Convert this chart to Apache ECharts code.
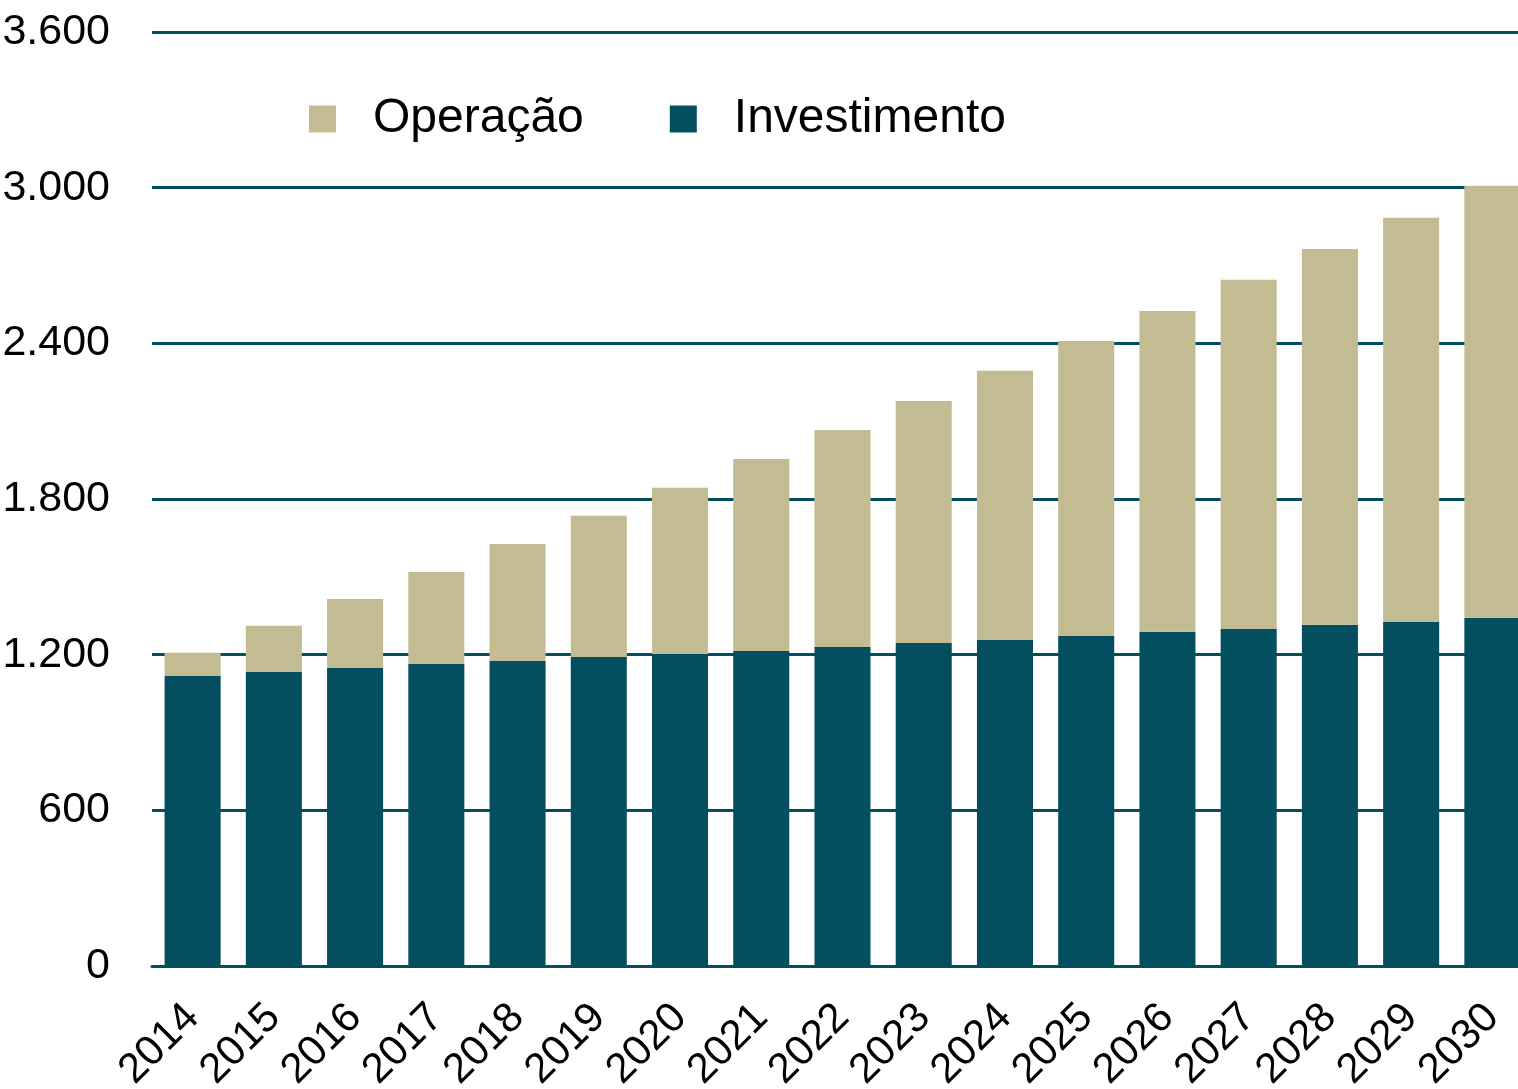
<!DOCTYPE html>
<html>
<head>
<meta charset="utf-8">
<script src="https://cdn.jsdelivr.net/npm/echarts@6/dist/echarts.min.js"></script>
<style>
html, body { margin: 0; padding: 0; background: #fff; }
#chart { width: 1518px; height: 1089px; }
</style>
</head>
<body>
<div id="chart"></div>
<script>
var anos = ['2014', '2015', '2016', '2017', '2018', '2019', '2020', '2021', '2022', '2023', '2024', '2025', '2026', '2027', '2028', '2029', '2030'];
var investimento = [1118, 1133, 1149, 1164, 1176, 1191, 1203, 1214, 1230, 1245, 1257, 1272, 1288, 1299, 1315, 1326, 1342];
var operacao = [89, 178, 266, 355, 451, 544, 640, 740, 836, 933, 1037, 1137, 1237, 1346, 1449, 1558, 1665];
var yTicks = [0, 600, 1200, 1800, 2400, 3000, 3600];

var fonte = "'Liberation Sans Narrow', 'Arial Narrow', 'Liberation Sans', sans-serif";
var corInv = '#034f5f';
var corOp = '#c3bc93';

var myChart = echarts.init(document.getElementById('chart'));
var option = {
	animation: false,
	textStyle: { fontFamily: fonte },
	legend: {
		left: 304,
		top: 90,
		itemWidth: 27,
		itemHeight: 27,
		itemGap: 86,
		icon: 'rect',
		textStyle: { fontFamily: fonte, fontSize: 48, color: '#000', padding: [0, 0, 0, 32] },
		data: ['Operação', 'Investimento']
	},
	grid: {
		left: 152,
		right: -15,
		top: 32,
		bottom: 123,
		outerBoundsMode: 'none'
	},
	xAxis: {
		type: 'category',
		data: anos,
		axisTick: { show: false },
		axisLine: { show: true, lineStyle: { color: corInv, width: 3 } },
		axisLabel: {
			rotate: 45,
			interval: 0,
			margin: 45,
			fontFamily: fonte,
			fontSize: 42,
			color: '#000'
		}
	},
	yAxis: {
		type: 'value',
		min: 0,
		max: 3600,
		interval: 600,
		axisLine: { show: false },
		axisTick: { show: false },
		splitLine: { show: true, lineStyle: { color: corInv, width: 3 } },
		axisLabel: {
			margin: 42,
			fontFamily: fonte,
			fontSize: 43,
			color: '#000',
			formatter: function (v) {
				if (yTicks.indexOf(v) < 0) return '';
				return v >= 1000 ? Math.floor(v / 1000) + '.' + ('00' + (v % 1000)).slice(-3) : String(v);
			}
		}
	},
	series: [{
		name: 'Investimento',
		type: 'bar',
		stack: 'total',
		barWidth: '69%',
		itemStyle: { color: corInv },
		data: investimento
	}, {
		name: 'Operação',
		type: 'bar',
		stack: 'total',
		itemStyle: { color: corOp },
		data: operacao
	}]
};
myChart.setOption(option, true);
</script>
</body>
</html>
